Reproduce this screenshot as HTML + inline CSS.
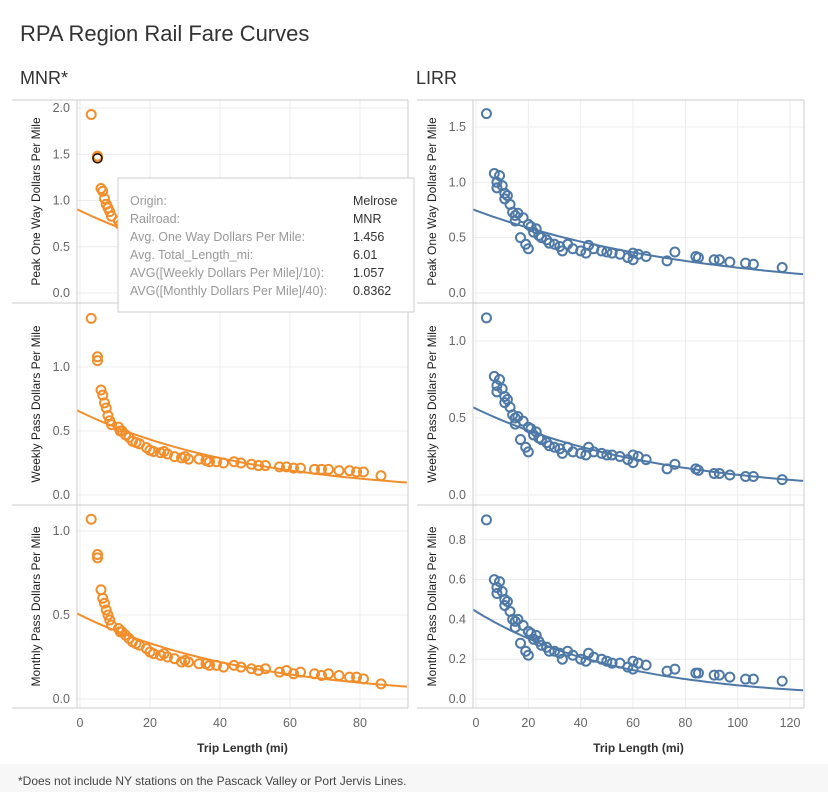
<!DOCTYPE html>
<html><head><meta charset="utf-8"><style>
body{margin:0;background:#fff;font-family:"Liberation Sans",sans-serif;}
svg text{font-family:"Liberation Sans",sans-serif;}
</style></head><body>
<svg id="c" width="828" height="792">
<rect x="0" y="764" width="828" height="28" fill="#f7f7f7"/>
<text x="20" y="41" font-size="22" fill="#333">RPA Region Rail Fare Curves</text>
<text x="20" y="84" font-size="18" fill="#333">MNR*</text>
<text x="416" y="84" font-size="18" fill="#333">LIRR</text>
<text x="18" y="785" font-size="12" fill="#444">*Does not include NY stations on the Pascack Valley or Port Jervis Lines.</text>
<g id="plots"></g>
</svg>
<script>
const mnrMiles=[3.2,5,5,6,6.5,7,7.5,8,8.5,9,11,11.5,12,13,14,15,16,17,19,20,21,23,24,25,27,29,30,31,34,36,37,39,41,44,46,49,51,53,57,59,61,63,67,69,71,74,77,79,81,86];
const mnrPeak=[1.93,1.48,1.46,1.13,1.1,1.02,0.96,0.92,0.88,0.83,0.78,0.74,0.72,0.7,0.66,0.62,0.6,0.6,0.55,0.52,0.5,0.48,0.5,0.47,0.45,0.42,0.43,0.4,0.4,0.39,0.37,0.36,0.36,0.37,0.35,0.34,0.33,0.33,0.31,0.32,0.29,0.3,0.29,0.28,0.29,0.27,0.27,0.26,0.26,0.22];
const mnrWeekly=[1.38,1.08,1.05,0.82,0.78,0.72,0.68,0.62,0.58,0.55,0.53,0.5,0.5,0.47,0.45,0.42,0.41,0.4,0.37,0.35,0.34,0.33,0.34,0.32,0.3,0.29,0.3,0.28,0.28,0.27,0.26,0.26,0.25,0.26,0.25,0.24,0.23,0.23,0.22,0.22,0.21,0.21,0.2,0.2,0.2,0.19,0.19,0.18,0.18,0.15];
const mnrMonthly=[1.07,0.86,0.84,0.65,0.6,0.57,0.53,0.5,0.47,0.44,0.42,0.4,0.4,0.38,0.36,0.34,0.33,0.32,0.3,0.28,0.27,0.26,0.27,0.25,0.24,0.22,0.23,0.22,0.21,0.21,0.2,0.2,0.19,0.2,0.19,0.18,0.17,0.18,0.16,0.17,0.15,0.16,0.15,0.14,0.15,0.14,0.13,0.13,0.12,0.09];
const lirrMiles=[4,7,8,8,9,10,11,11,12,13,14,15,15,16,17,18,19,20,20,21,22,23,24,25,27,28,30,32,33,35,37,40,42,43,45,48,50,52,55,58,60,60,62,65,73,76,84,85,91,93,97,103,106,117];
const lirrPeak=[1.62,1.08,1.0,0.95,1.06,0.97,0.9,0.85,0.88,0.8,0.73,0.7,0.65,0.72,0.5,0.68,0.44,0.4,0.62,0.6,0.55,0.58,0.52,0.5,0.48,0.45,0.44,0.42,0.38,0.44,0.4,0.38,0.36,0.43,0.4,0.38,0.37,0.36,0.35,0.32,0.3,0.36,0.35,0.33,0.29,0.37,0.33,0.32,0.3,0.3,0.28,0.27,0.26,0.23];
const lirrWeekly=[1.15,0.77,0.71,0.67,0.75,0.69,0.64,0.6,0.62,0.57,0.52,0.5,0.46,0.51,0.36,0.48,0.31,0.28,0.44,0.43,0.39,0.41,0.37,0.36,0.34,0.32,0.31,0.3,0.27,0.31,0.28,0.27,0.26,0.31,0.28,0.27,0.26,0.26,0.25,0.23,0.21,0.26,0.25,0.23,0.17,0.2,0.17,0.16,0.14,0.14,0.13,0.12,0.12,0.1];
const lirrMonthly=[0.9,0.6,0.56,0.53,0.59,0.54,0.5,0.47,0.49,0.44,0.4,0.39,0.36,0.4,0.28,0.37,0.24,0.22,0.34,0.33,0.3,0.32,0.29,0.27,0.26,0.24,0.24,0.23,0.2,0.24,0.22,0.2,0.19,0.23,0.21,0.2,0.19,0.18,0.18,0.16,0.15,0.19,0.18,0.17,0.14,0.15,0.13,0.13,0.12,0.12,0.11,0.1,0.1,0.09];
const mnrXTicks=[0,20,40,60,80];
const lirrXTicks=[0,20,40,60,80,100,120];
const mnrPeakTicks=[0,0.5,1,1.5,2];
const mnrWeeklyTicks=[0,0.5,1];
const mnrMonthlyTicks=[0,0.5,1];
const lirrPeakTicks=[0,0.5,1,1.5];
const lirrWeeklyTicks=[0,0.5,1];
const lirrMonthlyTicks=[0,0.2,0.4,0.6,0.8];
// exponential trend coefficients [a, b]: y = a*exp(b*x)
const mnrPeakTrend=[0.89,-0.0205];
const mnrWeeklyTrend=[0.65,-0.0203];
const mnrMonthlyTrend=[0.5,-0.0205];
const lirrPeakTrend=[0.745,-0.0118];
const lirrWeeklyTrend=[0.56,-0.0145];
const lirrMonthlyTrend=[0.44,-0.0185];
const hover=[5,1.456];

const NS="http://www.w3.org/2000/svg";
const G=document.getElementById('plots');
function mk(tag,attrs,parent){const e=document.createElementNS(NS,tag);for(const k in attrs)e.setAttribute(k,attrs[k]);(parent||G).appendChild(e);return e;}
const cols={mnr:{frameL:12,ax:77,right:408,x0:80,pxm:3.5,color:'#f28e2b',yl:70,title:36,xmax:93.4,xmin:-0.9},
            lirr:{frameL:417,ax:473,right:804,x0:476,pxm:2.617,color:'#4e79a7',yl:466,title:432,xmax:125,xmin:-1.2}};
const rows=[{top:100,bot:303,zero:293,ppu:[92.5,110.7],label:'Peak One Way Dollars Per Mile',name:'peak'},
            {top:303,bot:505,zero:495,ppu:[128,154],label:'Weekly Pass Dollars Per Mile',name:'weekly'},
            {top:505,bot:708,zero:699,ppu:[168,199],label:'Monthly Pass Dollars Per Mile',name:'monthly'}];
const data={mnr:[[mnrPeak,mnrPeakTicks,mnrPeakTrend],[mnrWeekly,mnrWeeklyTicks,mnrWeeklyTrend],[mnrMonthly,mnrMonthlyTicks,mnrMonthlyTrend]],
            lirr:[[lirrPeak,lirrPeakTicks,lirrPeakTrend],[lirrWeekly,lirrWeeklyTicks,lirrWeeklyTrend],[lirrMonthly,lirrMonthlyTicks,lirrMonthlyTrend]]};
['mnr','lirr'].forEach((k,ci)=>{
  const c=cols[k];const miles=k==='mnr'?mnrMiles:lirrMiles;const xt=k==='mnr'?mnrXTicks:lirrXTicks;
  const xs=v=>c.x0+v*c.pxm;
  rows.forEach((r,ri)=>{
    const [vals,ticks,tr]=data[k][ri];const ppu=r.ppu[ci];
    const ys=v=>r.zero-v*ppu;
    const g=mk('g',{});
    
    
    xt.forEach(t=>{const l=mk('line',{x1:xs(t),x2:xs(t),y1:r.top,y2:r.bot,stroke:'#ececec','stroke-width':1},g);
      });
    ticks.forEach(t=>{const l=mk('line',{x1:c.ax,x2:c.right,y1:ys(t),y2:ys(t),stroke:'#ececec','stroke-width':1},g);
      
      const tx=mk('text',{x:c.yl,y:ys(t)+4,'text-anchor':'end','font-size':12.5,fill:'#666'},g);tx.textContent=t.toFixed(1);
      });
    const yt=mk('text',{transform:`translate(${c.title+4},${(r.top+r.bot)/2}) rotate(-90)`,'text-anchor':'middle','font-size':12,fill:'#222'},g);
    yt.textContent=r.label;
    const pts=[];for(let i=0;i<=60;i++){const x=c.xmin+(c.xmax-c.xmin)*i/60;pts.push(xs(x).toFixed(1)+','+ys(tr[0]*Math.exp(tr[1]*x)).toFixed(1));}
    const tl=mk('polyline',{points:pts.join(' '),fill:'none',stroke:c.color,'stroke-width':2},g);
    
    vals.forEach((v,i)=>{const p=mk('circle',{cx:xs(miles[i]),cy:ys(v),r:4.5,fill:'none',stroke:c.color,'stroke-width':2},g);
      });
    const bl=mk('line',{x1:c.frameL,x2:c.right,y1:r.top,y2:r.top,stroke:'#ccc'},g);
    
  });
  const b=mk('line',{x1:c.frameL,x2:c.right,y1:708,y2:708,stroke:'#ccc'});
  
  const a=mk('line',{x1:c.ax,x2:c.ax,y1:100,y2:708,stroke:'#ccc'});
  
  const rr=mk('line',{x1:c.right,x2:c.right,y1:100,y2:708,stroke:'#ccc'});
  
  xt.forEach(t=>{const tx=mk('text',{x:xs(t),y:727,'text-anchor':'middle','font-size':12.5,fill:'#666'});tx.textContent=t;
    });
  const xtit=mk('text',{x:(c.ax+c.right)/2,y:752,'text-anchor':'middle','font-size':12,'font-weight':'bold',fill:'#333'});
  xtit.textContent='Trip Length (mi)';
});
// highlighted point
const hc=mk('circle',{cx:cols.mnr.x0+hover[0]*cols.mnr.pxm,cy:rows[0].zero-hover[1]*92.5,r:4.5,fill:'none',stroke:'#111','stroke-width':1.5});


// tooltip
const tt=mk('g',{});


mk('rect',{x:118,y:178,width:296,height:134,fill:'#fff',stroke:'#ccc'},tt);
const lab=['Origin:','Railroad:','Avg. One Way Dollars Per Mile:','Avg. Total_Length_mi:','AVG([Weekly Dollars Per Mile]/10):','AVG([Monthly Dollars Per Mile]/40):'];
const val=['Melrose','MNR','1.456','6.01','1.057','0.8362'];
lab.forEach((s,i)=>{const t=mk('text',{x:130,y:205+i*18,'font-size':12.5,fill:'#999'},tt);t.textContent=s;
  
  const v=mk('text',{x:353,y:205+i*18,'font-size':12.5,fill:'#333'},tt);v.textContent=val[i];
  });
</script>
</body></html>
